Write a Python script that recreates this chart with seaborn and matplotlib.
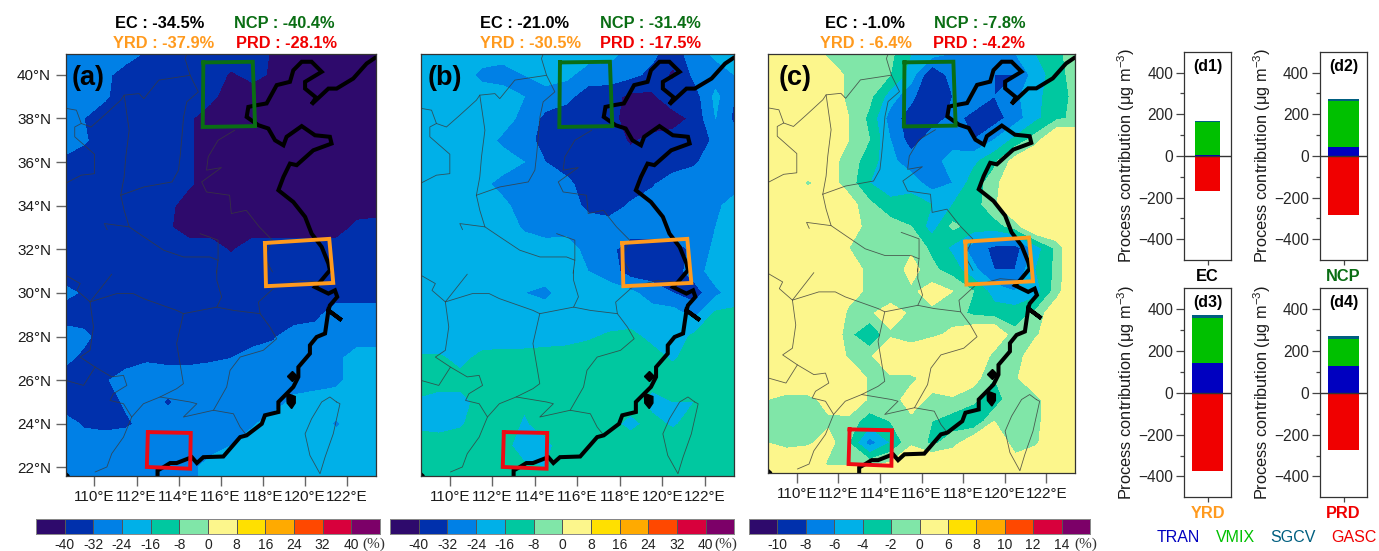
import numpy as np
import pandas as pd
import matplotlib
matplotlib.use('Agg')
import matplotlib.pyplot as plt
from matplotlib.colors import ListedColormap
import seaborn as sns

W, H = 1379, 551

# grid of the three maps
lons = [108.6, 109.5, 110.5, 111.5, 112.5, 113.5, 114.5, 115.5, 116.5, 117.5, 118.5, 119.5, 120.5, 121.5, 122.5, 123.4]
lats = [41, 40, 39, 38, 37, 36, 35, 34, 33, 32, 31, 30, 29, 28, 27, 26, 25, 24, 23, 22, 21.6]

map_a = [
    [-28,-28,-28,-28,-33,-36,-36,-36,-36,-36,-41,-44,-44,-44,-44,-44],
    [-28,-28,-30,-36,-36,-36,-36,-36,-41,-38,-41,-44,-44,-44,-44,-44],
    [-28,-28,-31,-36,-36,-36,-36,-38,-44,-44,-44,-44,-44,-44,-44,-44],
    [-28,-32,-36,-36,-36,-36,-39,-44,-44,-44,-44,-44,-44,-44,-44,-44],
    [-28,-31,-36,-36,-36,-36,-39,-44,-44,-44,-44,-44,-44,-44,-44,-44],
    [-34,-36,-36,-36,-36,-36,-39,-44,-44,-44,-44,-44,-44,-44,-44,-44],
    [-34,-36,-36,-36,-36,-36,-39,-44,-44,-44,-44,-44,-44,-44,-44,-44],
    [-36,-36,-36,-36,-36,-38,-44,-44,-44,-44,-44,-44,-44,-44,-44,-44],
    [-36,-36,-36,-36,-36,-39,-44,-44,-44,-44,-44,-44,-44,-44,-38,-37],
    [-36,-36,-36,-36,-36,-36,-36,-36,-41,-36,-36,-36,-36,-36,-36,-36],
    [-36,-36,-36,-36,-36,-36,-36,-36,-36,-36,-36,-36,-36,-36,-36,-36],
    [-30,-33,-36,-36,-36,-36,-36,-36,-36,-36,-36,-36,-36,-36,-36,-36],
    [-36,-36,-36,-36,-36,-36,-36,-36,-36,-36,-36,-36,-34,-28,-28,-28],
    [-28,-30,-36,-36,-36,-36,-36,-36,-36,-36,-33,-28,-28,-28,-28,-28],
    [-30,-34,-36,-36,-33,-34,-34,-33,-32,-28,-28,-28,-28,-26,-20,-20],
    [-36,-36,-33,-28,-28,-28,-28,-28,-28,-28,-28,-28,-28,-26,-20,-20],
    [-36,-36,-35,-31,-28,-33,-28,-28,-28,-28,-28,-22,-20,-20,-20,-20],
    [-29,-33,-34,-33,-30,-28,-28,-28,-28,-25,-20,-20,-20,-25,-20,-20],
    [-28,-28,-28,-28,-28,-28,-28,-28,-24,-20,-20,-20,-20,-20,-20,-20],
    [-28,-28,-28,-28,-28,-28,-27,-20,-20,-20,-20,-20,-20,-20,-20,-20],
    [-28,-28,-28,-28,-28,-28,-27,-20,-20,-20,-20,-20,-20,-20,-20,-20],
]
map_b = [
    [-20,-20,-20,-20,-20,-20,-20,-20,-20,-21,-27,-30,-36,-28,-22,-20],
    [-20,-20,-20,-26,-28,-24,-20,-22,-28,-28,-30,-34,-42,-30,-28,-24],
    [-20,-20,-20,-20,-20,-24,-28,-30,-36,-37,-42,-42,-34,-36,-22,-32],
    [-20,-20,-20,-20,-20,-27,-34,-36,-36,-37,-44,-44,-44,-38,-24,-34],
    [-20,-20,-20,-20,-26,-28,-36,-36,-36,-36,-41,-38,-36,-38,-30,-28],
    [-20,-20,-20,-20,-20,-24,-32,-36,-36,-36,-37,-40,-36,-33,-28,-28],
    [-20,-20,-21,-22,-27,-30,-28,-30,-36,-36,-36,-33,-28,-28,-27,-26],
    [-20,-20,-20,-20,-22,-28,-28,-28,-34,-36,-31,-28,-28,-28,-25,-22],
    [-20,-20,-20,-20,-20,-25,-28,-27,-28,-28,-28,-28,-28,-28,-24,-21],
    [-20,-20,-20,-20,-20,-20,-20,-20,-27,-30,-36,-36,-36,-30,-22,-20],
    [-20,-20,-20,-20,-20,-20,-20,-20,-24,-28,-36,-36,-36,-28,-20,-20],
    [-20,-20,-20,-20,-20,-24,-26,-20,-20,-20,-22,-28,-32,-36,-26,-20],
    [-20,-20,-20,-20,-20,-20,-20,-20,-20,-20,-20,-20,-20,-26,-14,-14],
    [-20,-20,-20,-20,-20,-20,-20,-19,-17,-15,-14,-18,-21,-14,-12,-12],
    [-15,-15,-18,-14,-13,-13,-12,-12,-12,-12,-12,-13,-17,-12,-12,-12],
    [-13,-14,-14,-12,-12,-12,-12,-12,-12,-12,-12,-14,-12,-12,-12,-12],
    [-17,-18,-18,-14,-13,-15,-12,-12,-12,-12,-13,-18,-16,-16,-12,-12],
    [-18,-19,-17,-12,-12,-17,-13,-12,-12,-14,-18,-14,-17,-13,-12,-12],
    [-12,-12,-12,-12,-14,-19,-18,-12,-16,-12,-12,-12,-12,-12,-12,-12],
    [-12,-12,-12,-12,-12,-15,-16,-12,-12,-12,-12,-12,-12,-12,-12,-12],
    [-12,-12,-12,-12,-12,-12,-12,-12,-12,-12,-12,-12,-12,-12,-12,-12],
]
map_c = [
    [3,3,3,-1,-1,-1,-1.5,-4,-5,-6,-7,-7,-6,-4,-2.5,-1],
    [3,3,3,3,-1,-1,-2,-5,-10,-7,-7,-8,-8,-5,-3,-1],
    [3,3,3,3,-1,-1.5,-5,-7.5,-10,-8,-7,-8,-6.5,-4.5,-3,-1.5],
    [3,3,3,3,0,-2.5,-7,-9,-9,-7.5,-8.5,-9,-7,-4.5,-2.5,-1.5],
    [3,3,3,3,0,-2,-6,-9,-7,-7,-8,-6,-3.5,-1,3,2],
    [3,3,3,1,-1,-3,-5.5,-7,-7,-5,-4.5,-2.5,1,3,3,3],
    [3,3,-0.5,1,-1,-4,-5,-5,-7,-6,-3,-1,3,3,3,3],
    [3,3,3,3,1,-1.5,-3.5,-3,-4,-4,-3,-0.5,3,3,3,3],
    [3,3,3,3,1.5,-1,-1,-2,-5,-1.5,-3,-3,-1,3,3,3],
    [3,3,3,3,0,-1,-1,-0.5,-2.5,-4.5,-7,-8.5,-9,-5,-1.5,3],
    [3,3,3,3,1,-0.5,-2,1,-1.5,-3,-5.5,-8,-8,-4,-1.5,3],
    [3,3,3,3,1,-0.5,-2,-0.5,1,0,-2,-5,-6,-5,-1,3],
    [3,3,3,3,-0.5,-0.5,1.5,-0.5,-0.5,-1,-2.5,-3,-3,-1.5,2,3],
    [3,3,3,3,-1.5,-4,-0.5,-2,-0.5,0.5,2,2.5,-1.5,-0.5,3,3],
    [3,3,3,3,-0.5,-0.5,3,3,3,3,3,-1,-2,3,3,3],
    [3,3,3,3,3,-0.5,-0.5,-0.5,1,3,1,-2,-0.5,3,3,3],
    [0,-1,-1,1,3,-0.5,-1,1,-0.5,-0.5,-1.5,-3.5,0,-1,3,3],
    [-1,-1,-1,-0.5,-1,-3,-2,-0.5,-2,-3,-4,0,-2,-1,3,3],
    [0,-1,-0.5,1,-2,-7,-4,-0.5,-2.5,-1,2,2,-1,-0.5,3,3],
    [3,3,3,-0.5,-0.5,-0.5,0.5,3,3,3,3,3,1,3,3,3],
    [3,3,3,3,3,3,3,3,3,3,3,3,3,3,3,3],
]

levels_ab = [-40, -32, -24, -16, -8, 0, 8, 16, 24, 32, 40]
levels_c = [-10, -8, -6, -4, -2, 0, 6, 8, 10, 12, 14]
class_colors = ['#2e0a6c', '#0030ac', '#0080e6', '#00b0e8', '#00c8a0', '#80e6a8',
                '#fcf68c', '#ffe000', '#ffaa00', '#ff4800', '#d8003c', '#7c0068']

# coast and province lines in lon / lat
coast_lon = [123.38,122.95,122.31,121.52,121.13,120.33,120.54,120.02,120.02,120.81,120.33,119.86,119.46,119.3,118.67,118.19,117.72,117.32,117.24,117.8,118.27,118.59,118.99,119.14,119.86,120.49,121.2,121.28,120.41,119.62,119.3,118.99,118.75,119.46,120.02,120.33,120.81,121.13,121.2,120.73,120.49,121.13,121.44,121.55,121.2,121.13,121.76,121.13,120.97,120.57,120.25,120.25,119.7,119.7,119.46,118.75,118.75,118.11,117.96,117.24,116.93,116.13,115.18,114.87,114.63,113.91,113.6,113.28,113.0,113.0]
coast_lat = [40.8,40.52,39.83,39.37,39.37,38.65,38.96,39.37,39.68,40.14,40.6,40.6,40.21,39.68,39.53,38.69,38.61,38.53,38.07,37.69,37.54,37.0,36.77,37.16,37.65,37.23,37.16,36.85,36.54,35.86,35.93,35.32,34.71,34.17,33.49,32.72,32.11,31.35,31.04,30.5,30.27,29.97,30.12,29.82,29.43,29.2,28.75,29.2,28.14,27.98,27.6,27.22,26.6,26.15,25.69,25.0,24.54,24.39,24.0,23.47,23.39,22.5,22.47,22.2,22.47,22.2,22.2,22.01,21.86,21.6]
island_lon = [119.15,119.55,119.55,119.38,119.17,119.15]
island_lat = [25.4,25.25,24.95,24.7,24.95,25.4]
matsu_lon = [119.38]
matsu_lat = [26.2]
corner_lon = [108.62,108.8,108.62]
corner_lat = [21.62,21.62,21.78]
province_lines = [
    ([108.67,109.14,109.37,109.84,110.47,111.25,111.41,112.12,112.35,113.06,114.08,114.55,114.31,114.39],
     [38.46,38.38,37.77,37.61,38.15,38.84,39.07,39.14,38.91,39.76,39.91,39.98,40.75,40.95]),
    ([109.37,109.06,109.06,110.0,110.0,109.37,108.67], [37.77,37.61,37.16,36.36,35.47,35.4,35.05]),
    ([111.41,111.65,111.49,111.41,111.25], [39.07,37.46,36.24,35.32,34.48]),
    ([114.55,114.94,114.39,114.24,114.16,114.08,114.0,113.69,112.35,111.25],
     [39.98,39.22,38.76,38.07,37.16,36.31,35.63,35.09,34.86,34.48]),
    ([116.67,115.88,115.41,115.33,116.04,115.1,115.33,116.43,116.51,117.22,117.84,118.47,118.08,118.47],
     [37.46,37.0,36.24,35.63,35.75,35.09,34.63,34.48,33.64,33.79,33.03,32.41,31.65,30.96]),
    ([111.25,111.41,111.65,110.47,110.6], [34.48,33.79,33.03,33.18,32.9]),
    ([111.65,112.35,113.29,114.24,115.49,115.88,115.8], [33.03,32.57,31.96,31.65,31.65,31.5,30.9]),
    ([115.02,115.88,115.88], [32.72,32.42,31.5]),
    ([108.64,109.32,109.16,109.79,110.82], [30.81,30.43,30.12,29.59,30.86]),
    ([109.79,111.06,111.85,112.33,113.91,114.23,115.82,116.05,115.82,115.82],
     [29.59,29.97,29.97,29.74,29.2,29.05,29.35,29.82,30.58,31.04]),
    ([114.23,113.91,114.23,113.91,113.12,112.33,111.77,111.38,110.82,110.59,110.03],
     [29.05,27.68,25.84,25.61,25.23,24.92,24.31,23.39,22.63,22.02,21.79]),
    ([109.79,109.95,109.79,109.32,110.03,110.82,111.38,111.54,110.9,110.74,111.38,111.77],
     [29.59,28.44,27.37,27.06,26.6,26.15,26.22,25.76,25.38,25.07,24.92,24.31]),
    ([108.64,109.48,110.03], [25.99,25.76,26.6]),
    ([115.82,116.61,117.88,118.35,118.67,118.03,116.93,116.45,116.29,115.66,114.23,114.87,114.55,113.12],
     [29.35,29.2,29.05,28.44,27.9,27.37,27.06,26.45,25.69,24.62,24.31,24.92,25.0,25.23]),
    ([115.66,116.61,116.93,117.24], [24.62,24.46,23.85,23.47]),
    ([117.88,117.8,118.59,119.78,120.73], [29.05,29.58,30.27,30.58,30.5]),
    ([121.52,121.2,120.81,120.33,120.02,120.25,120.73,120.97,121.36,121.68,121.52],
     [25.0,25.23,25.0,24.23,23.54,22.55,21.71,22.47,23.54,24.92,25.0]),
]

# study regions
ncp_lon, ncp_lat = [115.18,117.53,117.64,115.15,115.18], [40.57,40.6,37.65,37.61,40.57]
yrd_lon, yrd_lat = [118.11,121.17,121.36,118.16,118.11], [32.29,32.48,30.46,30.31,32.29]
prd_lon, prd_lat = [112.54,114.58,114.55,112.49,112.54], [23.62,23.58,21.94,22.02,23.62]

lon_ticks = [110, 112, 114, 116, 118, 120, 122]
lat_ticks = [40, 38, 36, 34, 32, 30, 28, 26, 24, 22]

# regional means above each map
stats_a = ['EC : -34.5%', 'NCP : -40.4%', 'YRD : -37.9%', 'PRD : -28.1%']
stats_b = ['EC : -21.0%', 'NCP : -31.4%', 'YRD : -30.5%', 'PRD : -17.5%']
stats_c = ['EC : -1.0%', 'NCP : -7.8%', 'YRD : -6.4%', 'PRD : -4.2%']
stat_colors = ['black', '#0a6e14', '#ff9a1e', '#f00000']

# process contributions
regions = ['EC', 'NCP', 'YRD', 'PRD']
region_colors = ['black', '#0a6e14', '#ff9a1e', '#f00000']
panel_names = ['(d1)', '(d2)', '(d3)', '(d4)']
tran = [5, 42, 142, 127]
vmix = [158, 220, 218, 130]
sgcv = [6, 13, 12, 15]
gasc = [-170, -283, -373, -275]
process_names = ['TRAN', 'VMIX', 'SGCV', 'GASC']
process_colors = ['#0000c0', '#00c000', '#005f80', '#f00000']

sns.set_theme(style='ticks')
plt.rcParams['font.family'] = ['Liberation Sans', 'DejaVu Sans']
plt.rcParams['mathtext.fontset'] = 'custom'
plt.rcParams['mathtext.rm'] = 'Liberation Sans'
plt.rcParams['text.color'] = '#1a1a1a'

fig = plt.figure(figsize=(W / 100, H / 100), dpi=100)


def px_axes(left, top, right, bottom):
    return fig.add_axes([left / W, 1 - bottom / H, (right - left) / W, (bottom - top) / H])


def px_text(x, y, s, **kw):
    fig.text(x / W, 1 - y / H, s, ha='center', va='center', **kw)


def draw_map(box, field, levels, label, label_x, left_labels=False):
    ax = px_axes(*box)
    ax.contourf(lons, lats, np.array(field, dtype=float), levels=levels,
                colors=class_colors, extend='both')
    for xs, ys in province_lines:
        ax.plot(xs, ys, color='#3a3a3a', lw=0.6, alpha=0.8)
    ax.plot(coast_lon, coast_lat, color='black', lw=2.9, solid_joinstyle='miter')
    ax.fill(island_lon, island_lat, color='black')
    ax.fill(corner_lon, corner_lat, color='black')
    ax.plot(matsu_lon, matsu_lat, 'D', color='black', ms=5.5)
    for xs, ys, c in [(ncp_lon, ncp_lat, '#0a6e14'), (yrd_lon, yrd_lat, '#ff9a1e'), (prd_lon, prd_lat, '#ee0a14')]:
        ax.plot(xs, ys, color=c, lw=2.8, solid_joinstyle='miter', solid_capstyle='projecting')
    ax.set_xlim(108.63, 123.38)
    ax.set_ylim(21.62, 40.97)
    ax.set_xticks(lon_ticks)
    ax.set_xticklabels([f'{v}°E' for v in lon_ticks], fontsize=11)
    ax.tick_params(axis='both', length=7.5, width=1, color='#666666', labelcolor='#1a1a1a', pad=3)
    if left_labels:
        ax.set_yticks(lat_ticks)
        ax.set_yticklabels([f'{v}°N' for v in lat_ticks], fontsize=11)
    else:
        ax.set_yticks([])
    for s in ax.spines.values():
        s.set_linewidth(0.9)
        s.set_color('#333333')
    ax.text(label_x, 0.942, label, transform=ax.transAxes, fontsize=19.5, fontweight='bold',
            color='black', va='center')
    return ax


def draw_colorbar(box, tick_labels, pct_x):
    cax = px_axes(*box)
    sns.heatmap(np.arange(12).reshape(1, 12), cmap=ListedColormap(class_colors), cbar=False, ax=cax,
                linewidths=0.5, linecolor='#555555', xticklabels=False, yticklabels=False)
    cax.set_xticks(np.arange(1, 12))
    cax.set_xticklabels(tick_labels, fontsize=10, rotation=0)
    cax.tick_params(axis='x', length=0, pad=3, labelcolor='#222222')
    for s in cax.spines.values():
        s.set_visible(True)
        s.set_linewidth(0.7)
        s.set_color('#888888')
    px_text(pct_x, 544, '(%)', fontsize=11, family=['Liberation Serif'], color='#333333')


draw_map((65.7, 53.7, 375.7, 475.7), map_a, levels_ab, '(a)', 0.02, left_labels=True)
draw_map((420.7, 53.7, 734.3, 475.7), map_b, levels_ab, '(b)', 0.023)
draw_map((768.3, 53.7, 1075, 472.7), map_c, levels_c, '(c)', 0.035)

draw_colorbar((36, 519, 380, 534.3), levels_ab, 374)
draw_colorbar((390, 519, 734.5, 534.3), levels_ab, 726)
draw_colorbar((749, 519, 1090, 534.3), levels_c, 1086)

stat_x = [(160, 284, 164, 286), (525, 650, 530, 651), (865, 980, 866, 979)]
for texts, xs in zip([stats_a, stats_b, stats_c], stat_x):
    for s, x, y, c in zip(texts, xs, [23, 23, 43, 43], stat_colors):
        px_text(x, y, s, fontsize=11.8, fontweight='bold', color=c)

# stacked bars, long form so seaborn handles the category axis
bar_df = pd.DataFrame({'region': regions, 'TRAN': tran, 'VMIX': vmix, 'SGCV': sgcv, 'GASC': gasc})
bar_boxes = [(1184.3, 51.7, 1231, 260), (1320, 51.7, 1367, 260),
             (1184.3, 288.3, 1231, 497.3), (1320, 288.3, 1367, 497.3)]
bar_widths = [0.55, 0.66, 0.66, 0.66]

for i, row in bar_df.iterrows():
    ax = px_axes(*bar_boxes[i])
    bottom = 0
    for name, color in zip(process_names[:3], process_colors[:3]):
        sns.barplot(x=[row['region']], y=[row[name]], bottom=bottom, color=color, saturation=1,
                    width=bar_widths[i], linewidth=0, ax=ax)
        bottom += row[name]
    sns.barplot(x=[row['region']], y=[row['GASC']], color=process_colors[3], saturation=1,
                width=bar_widths[i], linewidth=0, ax=ax)
    ax.axhline(0, color='#333333', lw=1)
    ax.set_xlim(-0.5, 0.5)
    ax.set_ylim(-500, 500)
    ax.set_yticks([-400, -200, 0, 200, 400])
    ax.set_yticks([-300, -100, 100, 300], minor=True)
    ax.tick_params(axis='y', which='major', length=6, width=0.9, color='#444444', labelsize=11.2, pad=2)
    ax.tick_params(axis='y', which='minor', length=3, width=0.9, color='#444444')
    ax.tick_params(axis='x', length=3.5, width=0.9, color='#444444', pad=3)
    ax.set_xticks([0])
    ax.set_xticklabels([row['region']], fontsize=11.8, fontweight='bold', color=region_colors[i])
    ax.set_xlabel('')
    ax.set_ylabel(r'Process contribution (μg m$\mathregular{^{-3}}$)', fontsize=11.8, labelpad=1, color='#1a1a1a')
    for s in ax.spines.values():
        s.set_linewidth(0.9)
        s.set_color('#333333')
    ax.text(0.5, 0.93, panel_names[i], transform=ax.transAxes, ha='center', va='center',
            fontsize=11.5, fontweight='bold', color='black')

for name, color, x in zip(process_names, process_colors, [1178, 1235, 1293, 1354]):
    px_text(x, 538, name, fontsize=11.5, color=color)

fig.savefig('out.png', dpi=100)
